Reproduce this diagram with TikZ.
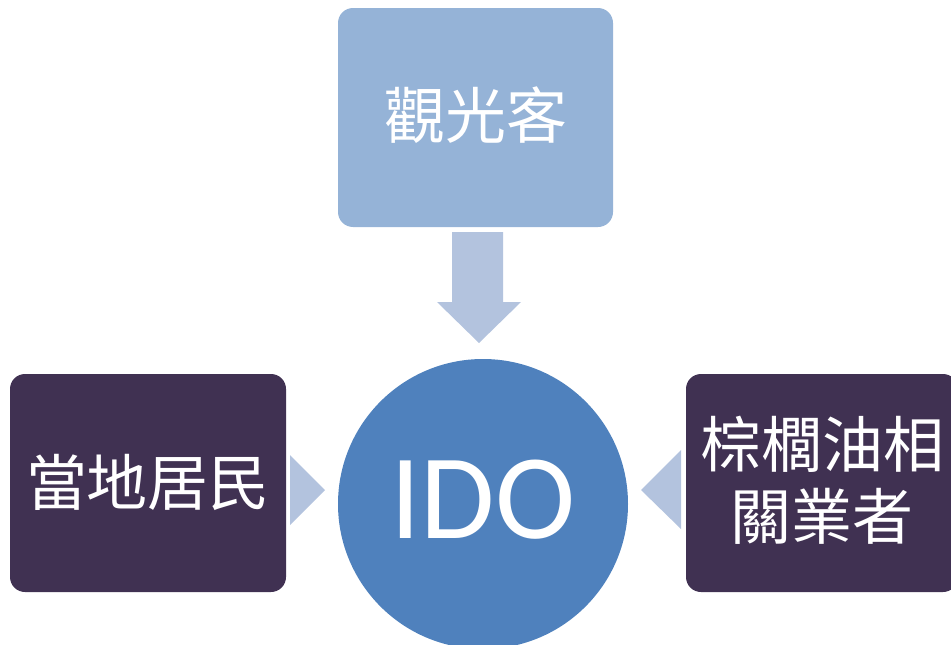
\documentclass[tikz,border=0pt]{standalone}
\usepackage{fontspec}
\newfontfamily\cjk{Noto Sans CJK TC}
\setmainfont{Carlito}
\definecolor{topblue}{HTML}{95B3D7}
\definecolor{arrowblue}{HTML}{B3C3DE}
\definecolor{darkpurple}{HTML}{403152}
\definecolor{circblue}{HTML}{4F81BD}
\tikzset{
  cjklabel/.style={text=white, font=\cjk\fontsize{61}{72}\selectfont, align=center},
  blockarrow/.style={fill=arrowblue, draw=none},
}
\begin{document}
\begin{tikzpicture}[x=1pt,y=-1pt]
\useasboundingbox (0,0) rectangle (951,645);
\begin{scope}
\clip (0,0) rectangle (951,645);
% boxes
\fill[topblue, rounded corners=15pt] (338,8) rectangle (613,227);
\node[cjklabel] (top) at (475.5,115) {觀光客};
\fill[darkpurple, rounded corners=15pt] (10,374) rectangle (286,592);
\node[cjklabel] (left) at (148,482) {當地居民};
\fill[darkpurple, rounded corners=15pt] (686,374) rectangle (958,592);
\node[cjklabel] (right) at (822,480) {棕櫚油相\\關業者};
% circle
\fill[circblue] (483,504) circle (145);
\node[text=white, font=\fontsize{121}{124}\selectfont] (ido) at (483,500) {IDO};
% arrows
\fill[blockarrow] (452,232) -- (503,232) -- (503,302) -- (521,302) -- (479,343) -- (437,302) -- (452,302) -- cycle;
\fill[blockarrow] (290,455) -- (325,490) -- (290,525) -- cycle;
\fill[blockarrow] (681,450) -- (641,490) -- (681,529) -- cycle;
\end{scope}
\end{tikzpicture}
\end{document}
